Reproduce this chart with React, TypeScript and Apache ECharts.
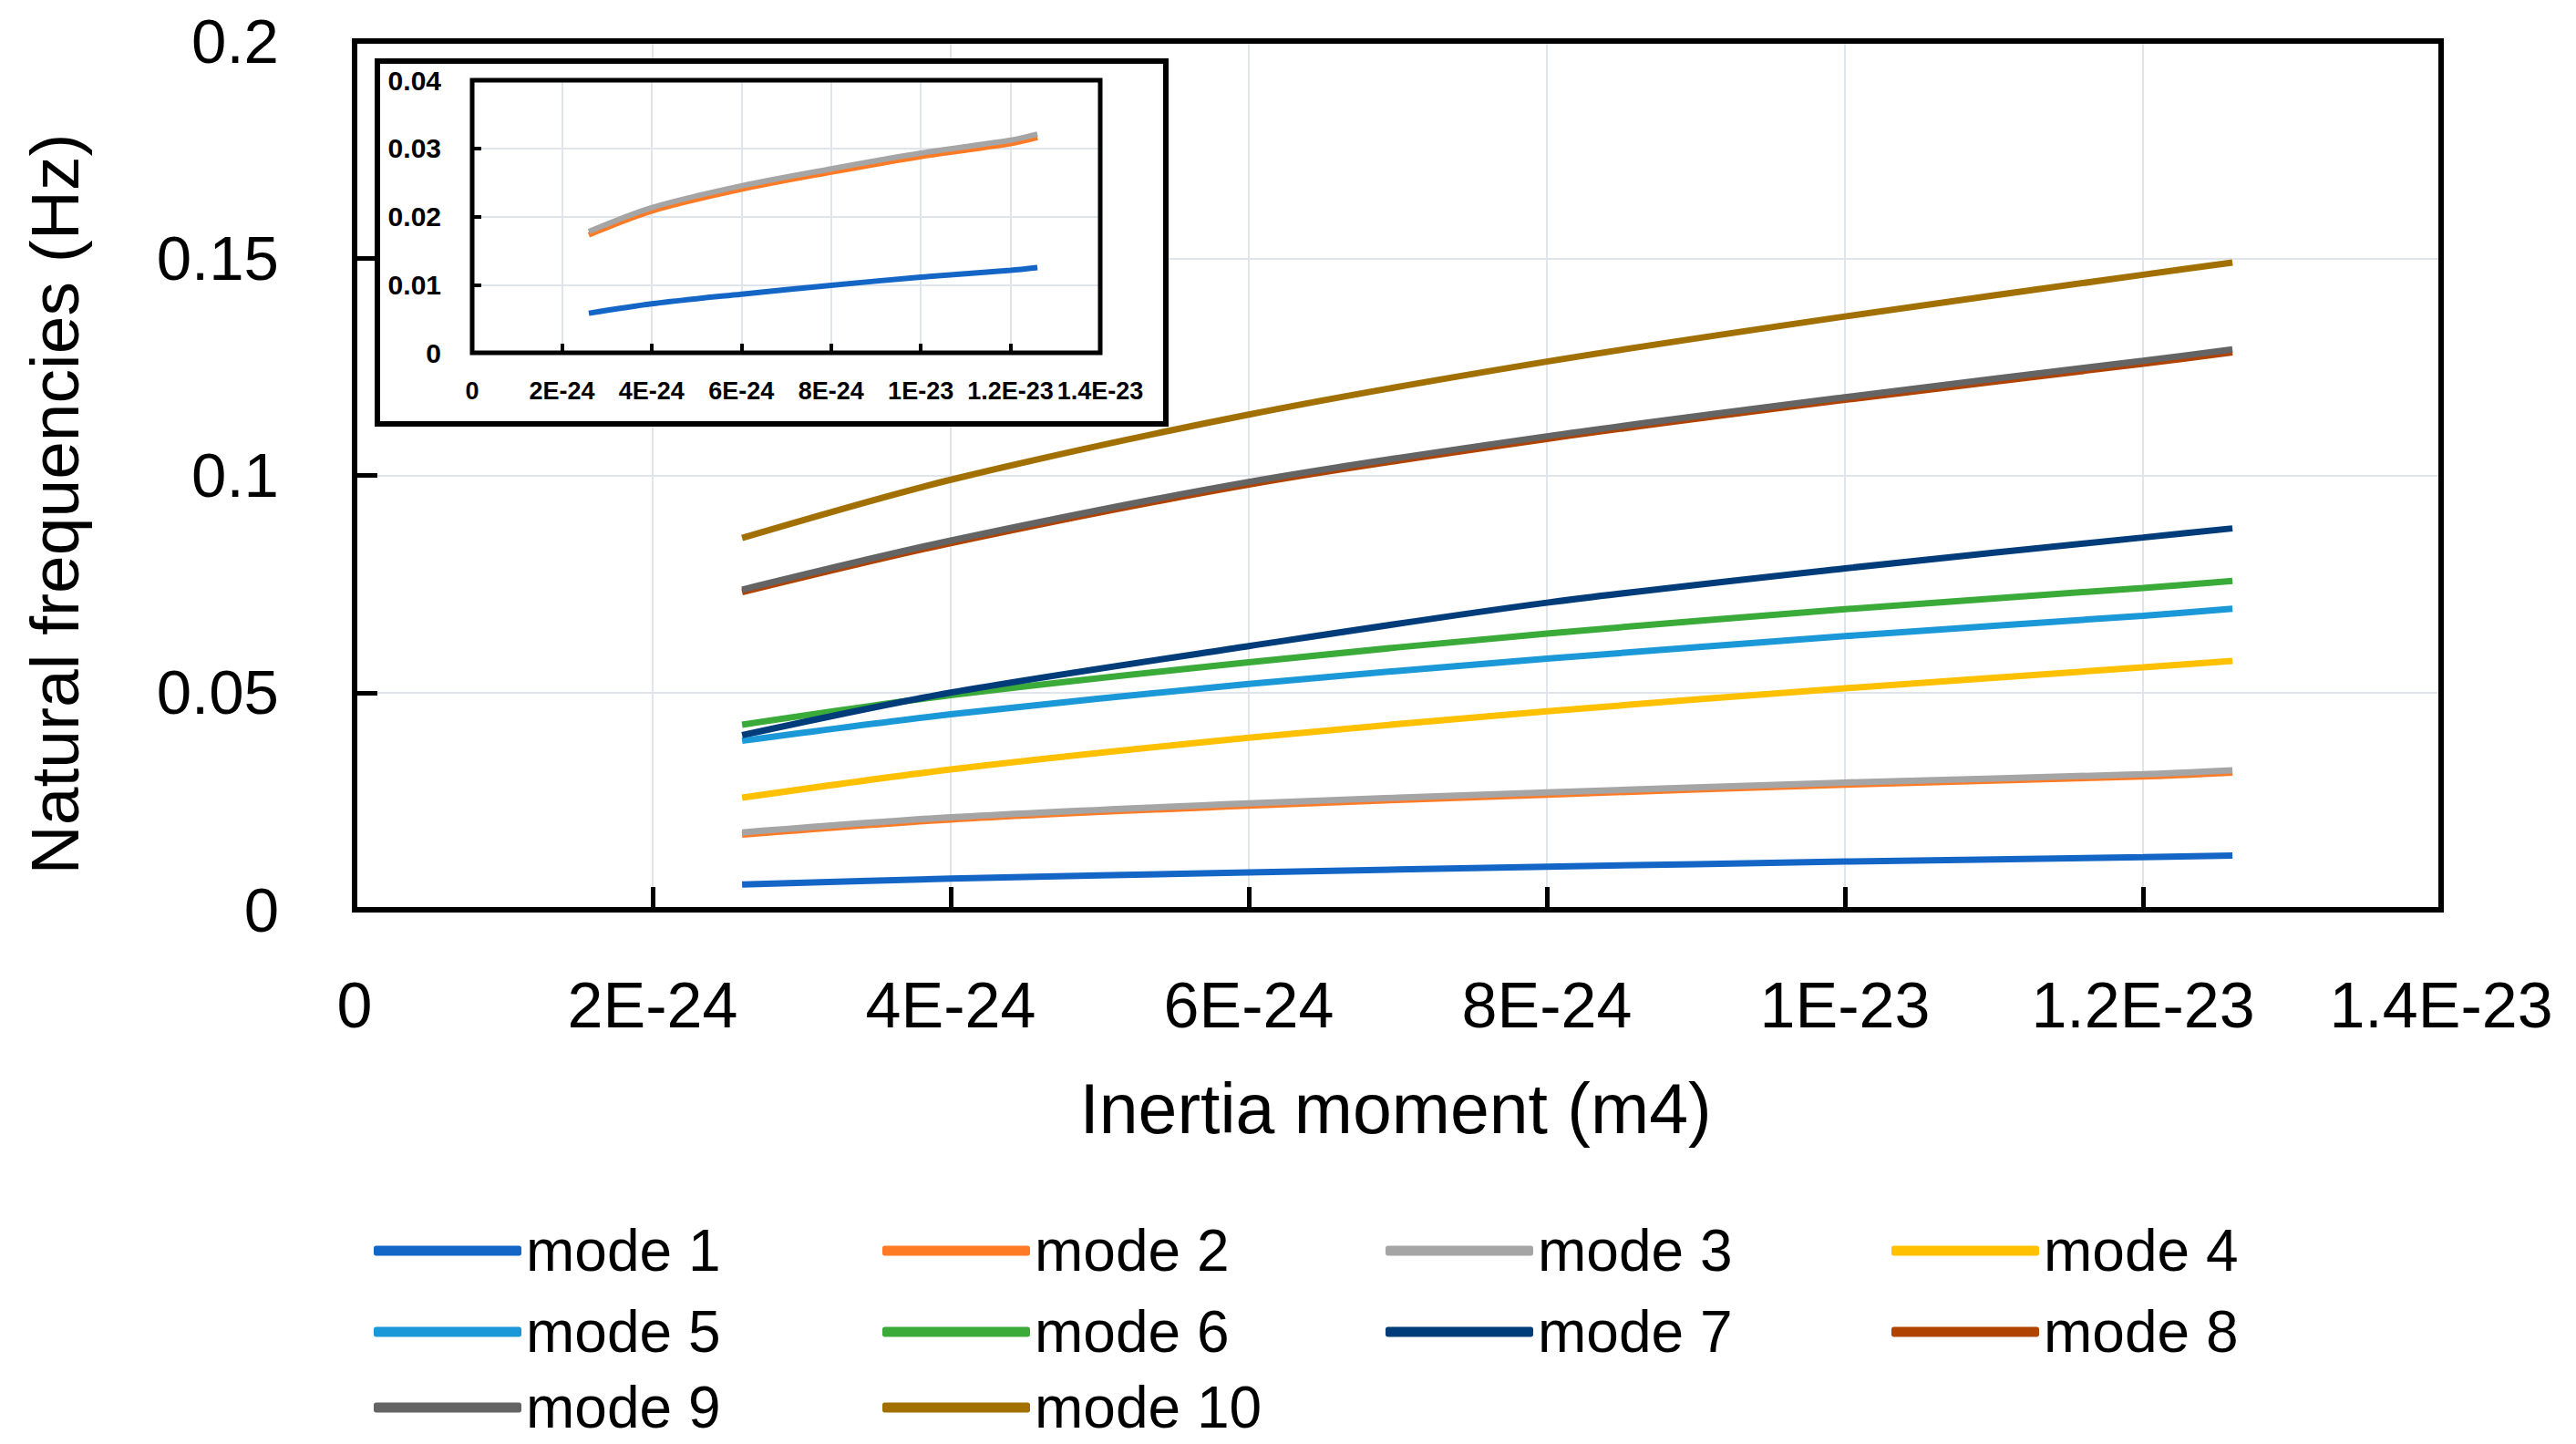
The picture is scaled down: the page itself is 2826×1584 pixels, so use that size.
import React, { useEffect, useRef } from "react";
import * as echarts from "echarts";

// Inertia moment, in units of 1E-24 m4
const inertiaE24 = [2.6, 4, 6, 8, 10, 12, 12.6];

const mode1 = [0.0058, 0.0072, 0.0086, 0.0099, 0.0111, 0.0121, 0.0125];
const mode2 = [0.0173, 0.0208, 0.0240, 0.0265, 0.0288, 0.0307, 0.0316];
const mode3 = [0.0178, 0.0213, 0.0245, 0.0270, 0.0293, 0.0312, 0.0321];
const mode4 = [0.0258, 0.0323, 0.0396, 0.0457, 0.0510, 0.0558, 0.0573];
const mode5 = [0.0389, 0.0450, 0.0520, 0.0578, 0.0630, 0.0677, 0.0693];
const mode6 = [0.0426, 0.0494, 0.0570, 0.0636, 0.0692, 0.0741, 0.0757];
const mode7 = [0.0402, 0.0500, 0.0607, 0.0707, 0.0786, 0.0857, 0.0878];
const mode8 = [0.0731, 0.0844, 0.0979, 0.1084, 0.1174, 0.1257, 0.1283];
const mode9 = [0.0737, 0.0850, 0.0985, 0.1090, 0.1180, 0.1264, 0.1290];
const mode10 = [0.0856, 0.0990, 0.1140, 0.1262, 0.1366, 0.1462, 0.1490];

const modeNames = ["mode 1", "mode 2", "mode 3", "mode 4", "mode 5", "mode 6", "mode 7", "mode 8", "mode 9", "mode 10"];
const modeValues = [mode1, mode2, mode3, mode4, mode5, mode6, mode7, mode8, mode9, mode10];
const modeColors = ["#1466c6", "#ff7a24", "#a5a5a5", "#ffc000", "#1a98d8", "#3aab39", "#003c7a", "#b04300", "#646464", "#a27000"];

const xTickLabels = ["0", "2E-24", "4E-24", "6E-24", "8E-24", "1E-23", "1.2E-23", "1.4E-23"];
const yTickLabels = ["0", "0.05", "0.1", "0.15", "0.2"];
const insetYTickLabels = ["0", "0.01", "0.02", "0.03", "0.04"];

// legend layout: 4 columns x 3 rows, filled row by row
const legendColLeft = [410, 968, 1520, 2075];
const legendRowTop = [1340, 1429, 1512];

const FONT = "'Liberation Sans', Arial, sans-serif";

export default function App() {
  const ref = useRef<HTMLDivElement>(null);
  useEffect(() => {
    if (!ref.current) return;
    const chart = echarts.init(ref.current, undefined, { renderer: "svg" });

    const toData = (vals: number[]) => inertiaE24.map((x, i) => [x, vals[i]]);

    const mainSeries = modeNames.map((name, i) => ({
      name,
      type: "line",
      xAxisIndex: 0,
      yAxisIndex: 0,
      data: toData(modeValues[i]),
      showSymbol: false,
      symbol: "none",
      smooth: 0.3,
      color: modeColors[i],
      lineStyle: { width: 7, color: modeColors[i] },
      z: 2,
    }));

    const insetSeries = [0, 1, 2].map((i) => ({
      name: modeNames[i],
      type: "line",
      xAxisIndex: 1,
      yAxisIndex: 1,
      data: toData(modeValues[i]),
      showSymbol: false,
      symbol: "none",
      smooth: 0.3,
      color: modeColors[i],
      lineStyle: { width: 6, color: modeColors[i] },
      z: 4,
    }));

    const gridColor = "#e0e5eb";

    const legends = modeNames.map((name, i) => ({
      orient: "horizontal",
      left: legendColLeft[i % 4],
      top: legendRowTop[Math.floor(i / 4)],
      padding: 0,
      itemWidth: 162,
      itemHeight: 11,
      icon: "roundRect",
      selectedMode: false,
      textStyle: { fontSize: 64, fontFamily: FONT, color: "#000", lineHeight: 64 },
      data: [name],
    }));

    const option: any = {
      animation: false,
      backgroundColor: "#ffffff",
      grid: [
        { left: 389, top: 45, width: 2289, height: 953, outerBoundsMode: "none", containLabel: false },
        { left: 518, top: 88, width: 689, height: 299, outerBoundsMode: "none", containLabel: false },
      ],
      xAxis: [
        {
          type: "value",
          gridIndex: 0,
          min: 0,
          max: 14,
          interval: 2,
          axisLine: { show: false },
          axisTick: { show: true, inside: true, length: 25, lineStyle: { color: "#000", width: 5 } },
          splitLine: { show: true, lineStyle: { color: gridColor, width: 2 } },
          axisLabel: {
            show: true,
            margin: 70,
            fontSize: 70,
            fontFamily: FONT,
            color: "#000",
            showMinLabel: true,
            showMaxLabel: true,
            hideOverlap: false,
            formatter: (v: number) => xTickLabels[Math.round(v / 2)] ?? "",
          },
        },
        {
          type: "value",
          gridIndex: 1,
          min: 0,
          max: 14,
          interval: 2,
          z: 3,
          axisLine: { show: false },
          axisTick: { show: true, inside: true, length: 10, lineStyle: { color: "#000", width: 4 } },
          splitLine: { show: true, lineStyle: { color: gridColor, width: 2 } },
          axisLabel: {
            show: true,
            margin: 28,
            fontSize: 27,
            fontWeight: "bold",
            fontFamily: FONT,
            color: "#000",
            showMinLabel: true,
            showMaxLabel: true,
            hideOverlap: false,
            formatter: (v: number) => xTickLabels[Math.round(v / 2)] ?? "",
          },
        },
      ],
      yAxis: [
        {
          type: "value",
          gridIndex: 0,
          min: 0,
          max: 0.2,
          interval: 0.05,
          axisLine: { show: false },
          axisTick: { show: true, inside: true, length: 25, lineStyle: { color: "#000", width: 5 } },
          splitLine: { show: true, lineStyle: { color: gridColor, width: 2 } },
          axisLabel: {
            show: true,
            margin: 83,
            fontSize: 69,
            fontFamily: FONT,
            color: "#000",
            showMinLabel: true,
            showMaxLabel: true,
            formatter: (v: number) => yTickLabels[Math.round(v / 0.05)] ?? "",
          },
        },
        {
          type: "value",
          gridIndex: 1,
          min: 0,
          max: 0.04,
          interval: 0.01,
          z: 3,
          axisLine: { show: false },
          axisTick: { show: true, inside: true, length: 10, lineStyle: { color: "#000", width: 4 } },
          splitLine: { show: true, lineStyle: { color: gridColor, width: 2 } },
          axisLabel: {
            show: true,
            margin: 34,
            fontSize: 30,
            fontWeight: "bold",
            fontFamily: FONT,
            color: "#000",
            showMinLabel: true,
            showMaxLabel: true,
            formatter: (v: number) => insetYTickLabels[Math.round(v / 0.01)] ?? "",
          },
        },
      ],
      legend: legends,
      graphic: [
        {
          type: "rect",
          z: 1,
          shape: { x: 414, y: 67, width: 865, height: 398 },
          style: { fill: "#ffffff", stroke: "#000000", lineWidth: 6 },
        },
        {
          type: "rect",
          z: 10,
          shape: { x: 389, y: 45, width: 2289, height: 953 },
          style: { fill: "none", stroke: "#000000", lineWidth: 6 },
        },
        {
          type: "rect",
          z: 10,
          shape: { x: 518, y: 88, width: 689, height: 299 },
          style: { fill: "none", stroke: "#000000", lineWidth: 5 },
        },
        {
          type: "text",
          z: 10,
          x: 1531,
          y: 1216,
          style: {
            text: "Inertia moment (m4)",
            fontSize: 77,
            fontFamily: FONT,
            fill: "#000",
            textAlign: "center",
            textVerticalAlign: "middle",
          },
        },
        {
          type: "text",
          z: 10,
          x: 60,
          y: 553,
          rotation: Math.PI / 2,
          style: {
            text: "Natural frequencies (Hz)",
            fontSize: 75,
            fontFamily: FONT,
            fill: "#000",
            textAlign: "center",
            textVerticalAlign: "middle",
          },
        },
      ],
      series: [...mainSeries, ...insetSeries],
    };

    chart.setOption(option);
    return () => chart.dispose();
  }, []);

  return (
    <div
      ref={ref}
      style={{ position: "fixed", left: 0, top: 0, width: 2826, height: 1584, background: "#fff" }}
    />
  );
}
